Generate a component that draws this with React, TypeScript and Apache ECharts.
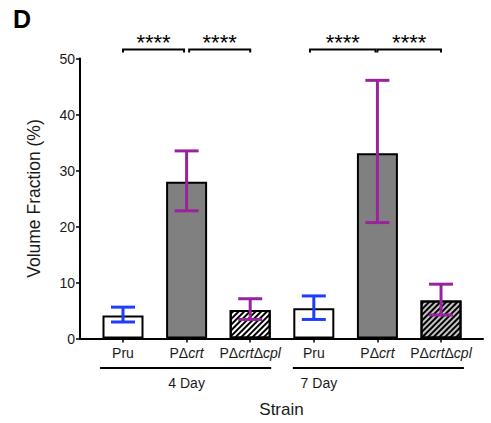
import React, { useEffect, useRef } from 'react';
import * as echarts from 'echarts';

// ---- data ----
const categories = ['Pru', 'PΔcrt', 'PΔcrtΔcpl', 'Pru', 'PΔcrt', 'PΔcrtΔcpl'];
const positions = [1, 2, 3, 4, 5, 6];
const means = [4.1, 28.0, 5.1, 5.4, 33.1, 6.8];
const errLow = [2.95, 22.8, 3.4, 3.4, 20.7, 4.2];
const errHigh = [5.6, 33.5, 7.1, 7.6, 46.1, 9.7];
const groups = ['4 Day', '7 Day'];
const groupStart = [0.64, 3.67];
const groupEnd = [3.33, 6.36];
const groupLabelPos = [2.0, 4.08];
const sigStart = [1.0, 2.04, 3.94, 5.0];
const sigEnd = [1.96, 3.0, 4.97, 6.0];
const sigLevel = [51.6, 51.6, 51.6, 51.6];
const sigLabels = ['****', '****', '****', '****'];
const yTicks = [0, 10, 20, 30, 40, 50];

// ---- styles ----
const FONT = 'Liberation Sans, Arial, sans-serif';
const TEXT = '#1a1a1a';
const barFills = ['#ffffff', '#808080', '#ffffff', '#ffffff', '#808080', '#c4c4c4'];
const barHatched = [false, false, true, false, false, true];
const errColors = ['#1f3dff', '#99239a', '#99239a', '#1f3dff', '#99239a', '#99239a'];

const richName = (s: string) => s.replace(/crt/g, '{i|crt}').replace(/cpl/g, '{i|cpl}');

export default function App() {
  const ref = useRef<HTMLDivElement>(null);
  useEffect(() => {
    if (!ref.current) return;
    const chart = echarts.init(ref.current, null, { renderer: 'svg' });

    const barData = positions.map((p, i) => ({
      value: [p, means[i]],
      itemStyle: {
        color: barFills[i],
        borderColor: '#000',
        borderWidth: 2,
        decal: barHatched[i]
          ? {
              symbol: 'rect',
              symbolSize: 1,
              dashArrayX: [1, 0],
              dashArrayY: [1.2, 2.0],
              rotation: -Math.PI / 4,
              color: '#000',
            }
          : 'none',
      },
    }));

    const errData = positions.map((p, i) => [p, errLow[i], errHigh[i]]);
    const sigData = sigStart.map((s, i) => [s, sigLevel[i], sigEnd[i]]);
    const groupData = groupStart.map((s, i) => [s, 0, groupEnd[i], groupLabelPos[i]]);

    chart.setOption({
      animation: false,
      textStyle: { fontFamily: FONT },
      grid: { left: 80, right: 8, top: 58.5, bottom: 84.5, containLabel: false },
      graphic: [
        {
          type: 'text',
          left: 13,
          top: 6,
          style: { text: 'D', font: `bold 25px ${FONT}`, fill: '#000' },
        },
      ],
      xAxis: {
        type: 'value',
        min: 0.324,
        max: 6.66,
        splitLine: { show: false },
        axisLine: { show: true, lineStyle: { color: '#000', width: 2 } },
        axisTick: {
          show: true,
          customValues: positions,
          length: 4,
          lineStyle: { color: '#000', width: 1.5 },
        },
        axisLabel: {
          customValues: positions,
          margin: 7,
          fontSize: 14,
          color: TEXT,
          fontFamily: FONT,
          formatter: (v: number) => richName(categories[Math.round(v) - 1] || ''),
          rich: {
            i: { fontStyle: 'italic', fontSize: 14, color: TEXT, fontFamily: FONT },
          },
        },
        name: 'Strain',
        nameLocation: 'middle',
        nameGap: 62,
        nameTextStyle: { fontSize: 17, color: TEXT, fontFamily: FONT },
      },
      yAxis: {
        type: 'value',
        min: 0,
        max: 50,
        interval: 10,
        splitLine: { show: false },
        axisLine: { show: true, lineStyle: { color: '#000', width: 2 } },
        axisTick: { show: true, length: 4, lineStyle: { color: '#000', width: 1.5 } },
        axisLabel: {
          fontSize: 14,
          color: TEXT,
          margin: 5,
          fontFamily: FONT,
          customValues: yTicks,
        },
        name: 'Volume Fraction (%)',
        nameLocation: 'middle',
        nameGap: 37,
        nameTextStyle: { fontSize: 17.5, color: TEXT, fontFamily: FONT },
      },
      series: [
        {
          type: 'bar',
          data: barData,
          barWidth: 41,
        },
        {
          type: 'custom',
          clip: false,
          data: errData,
          encode: { x: 0, y: [1, 2] },
          renderItem: (params: any, api: any) => {
            const i = params.dataIndex;
            const x = api.value(0);
            const lo = api.coord([x, api.value(1)]);
            const hi = api.coord([x, api.value(2)]);
            const hw = 12;
            const st = { stroke: errColors[i], lineWidth: 3 };
            return {
              type: 'group',
              children: [
                { type: 'line', shape: { x1: lo[0], y1: lo[1], x2: hi[0], y2: hi[1] }, style: st },
                { type: 'line', shape: { x1: hi[0] - hw, y1: hi[1], x2: hi[0] + hw, y2: hi[1] }, style: st },
                { type: 'line', shape: { x1: lo[0] - hw, y1: lo[1], x2: lo[0] + hw, y2: lo[1] }, style: st },
              ],
            };
          },
          z: 5,
        },
        {
          type: 'custom',
          clip: false,
          data: sigData,
          encode: { x: [0, 2], y: 1 },
          renderItem: (params: any, api: any) => {
            const i = params.dataIndex;
            const a = api.coord([api.value(0), api.value(1)]);
            const b = api.coord([api.value(2), api.value(1)]);
            const y = a[1];
            return {
              type: 'group',
              children: [
                {
                  type: 'polyline',
                  shape: { points: [[a[0], y + 3], [a[0], y], [b[0], y], [b[0], y + 3]] },
                  style: { stroke: '#000', lineWidth: 2, fill: 'none' },
                },
                {
                  type: 'text',
                  style: {
                    text: sigLabels[i],
                    x: (a[0] + b[0]) / 2,
                    y: y + 4,
                    align: 'center',
                    verticalAlign: 'bottom',
                    fontSize: 22,
                    fontFamily: FONT,
                    fill: '#000',
                  },
                },
              ],
            };
          },
        },
        {
          type: 'custom',
          clip: false,
          data: groupData,
          encode: { x: [0, 2], y: 1 },
          renderItem: (params: any, api: any) => {
            const i = params.dataIndex;
            const a = api.coord([api.value(0), 0]);
            const b = api.coord([api.value(2), 0]);
            const c = api.coord([api.value(3), 0]);
            const y = a[1] + 29.5;
            return {
              type: 'group',
              children: [
                {
                  type: 'line',
                  shape: { x1: a[0], y1: y, x2: b[0], y2: y },
                  style: { stroke: '#000', lineWidth: 2 },
                },
                {
                  type: 'text',
                  style: {
                    text: groups[i],
                    x: c[0],
                    y: y + 15,
                    align: 'center',
                    verticalAlign: 'middle',
                    fontSize: 14,
                    fontFamily: FONT,
                    fill: TEXT,
                  },
                },
              ],
            };
          },
        },
      ],
    });
    return () => chart.dispose();
  }, []);
  return (
    <div
      ref={ref}
      style={{ position: 'fixed', left: 0, top: 0, width: 491, height: 423, background: '#fff' }}
    />
  );
}
